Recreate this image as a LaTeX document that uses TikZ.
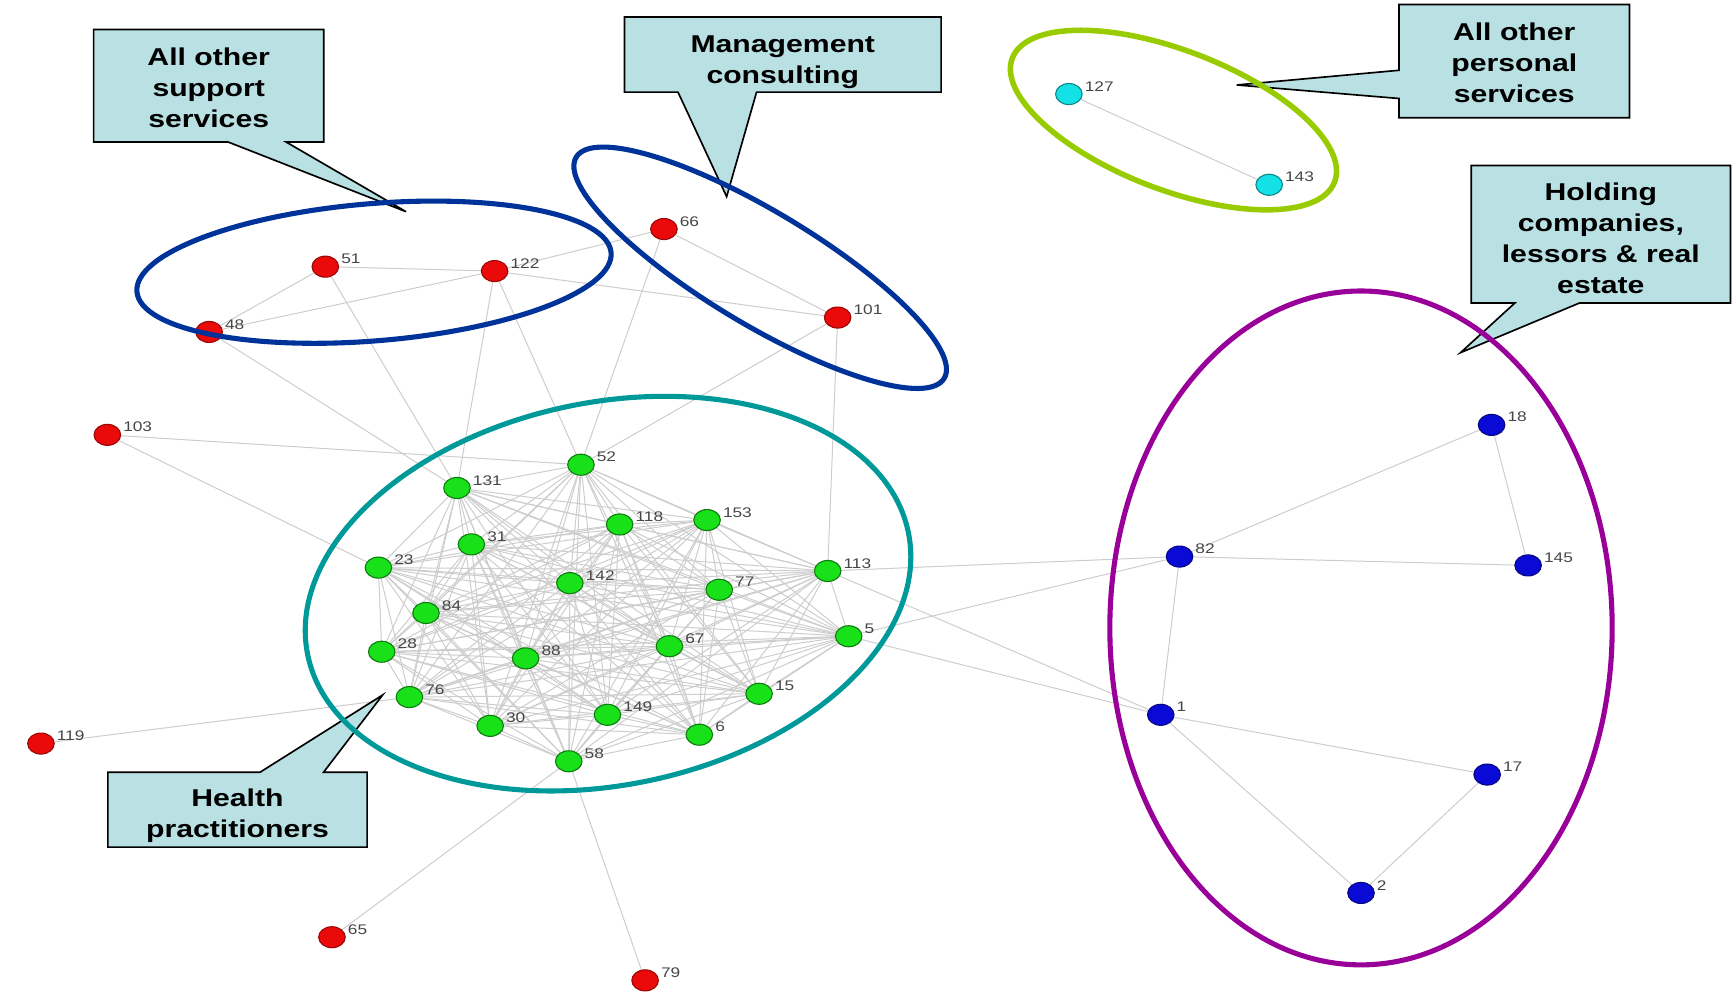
\documentclass[tikz,border=0pt]{standalone}
\usepackage{fontspec}
\setmainfont{Liberation Sans}
\newfontfamily\callfont[FakeStretch=1.24]{Liberation Sans}
\newfontfamily\labfont[FakeStretch=1.24]{Liberation Sans}
\usetikzlibrary{calc,shapes.geometric}

\definecolor{tealring}{RGB}{0,153,153}
\definecolor{navyring}{RGB}{0,51,153}
\definecolor{limering}{RGB}{153,204,0}
\definecolor{purplering}{RGB}{153,0,153}
\definecolor{calloutfill}{RGB}{185,224,227}
\definecolor{edgegray}{RGB}{205,205,205}
\definecolor{labelgray}{RGB}{70,70,70}
\definecolor{nodegreen}{RGB}{25,225,25}
\definecolor{nodered}{RGB}{235,10,10}
\definecolor{nodeblue}{RGB}{10,10,215}
\definecolor{nodecyan}{RGB}{20,225,230}

\pgfdeclarelayer{edges}
\pgfdeclarelayer{vertices}
\pgfdeclarelayer{callouts}
\pgfsetlayers{edges,vertices,callouts,main}

% vertex: style, name, x, y, printed number
\newcommand\vtx[5]{%
  \node[vertex,#1] (#2) at (#3,#4) {};
  \node[vlabel] (#2-l) at (#3+14,#4-7) {#5};}

\begin{document}
\begin{tikzpicture}[x=0.5pt,y=-0.5pt,
  vertex/.style={ellipse, minimum width=12pt, minimum height=9.5pt, inner sep=0pt, line width=0.5pt},
  gv/.style={fill=nodegreen, draw=nodegreen!55!black},
  rv/.style={fill=nodered, draw=nodered!65!black},
  bv/.style={fill=nodeblue, draw=nodeblue!60!black},
  cv/.style={fill=nodecyan, draw=nodecyan!60!black},
  vlabel/.style={anchor=west, inner sep=0pt, text=labelgray, font=\labfont\fontsize{6.3}{7}\selectfont},
  edge/.style={draw=edgegray, line width=0.45pt},
  callbox/.style={inner sep=0pt},
  callout/.style={fill=calloutfill, draw=black, line width=0.75pt, line join=miter},
  ctext/.style={inner sep=0pt, align=center, font=\callfont\bfseries\fontsize{11}{14}\selectfont},
  ring/.style={line width=2.3pt}]

\useasboundingbox (0,0) rectangle (1568,897);

\begin{pgfonlayer}{vertices}
% health practitioners cluster
\vtx{gv}{n52}{525}{420}{52}
\vtx{gv}{n131}{413}{441}{131}
\vtx{gv}{n118}{560}{474}{118}
\vtx{gv}{n153}{639}{470}{153}
\vtx{gv}{n31}{426}{492}{31}
\vtx{gv}{n23}{342}{513}{23}
\vtx{gv}{n142}{515}{527}{142}
\vtx{gv}{n77}{650}{533}{77}
\vtx{gv}{n113}{748}{516}{113}
\vtx{gv}{n84}{385}{554}{84}
\vtx{gv}{n5}{767}{575}{5}
\vtx{gv}{n28}{345}{589}{28}
\vtx{gv}{n88}{475}{595}{88}
\vtx{gv}{n67}{605}{584}{67}
\vtx{gv}{n76}{370}{630}{76}
\vtx{gv}{n15}{686}{627}{15}
\vtx{gv}{n30}{443}{656}{30}
\vtx{gv}{n149}{549}{646}{149}
\vtx{gv}{n6}{632}{664}{6}
\vtx{gv}{n58}{514}{688}{58}
% support services and other red vertices
\vtx{rv}{n51}{294}{241}{51}
\vtx{rv}{n122}{447}{245}{122}
\vtx{rv}{n48}{189}{300}{48}
\vtx{rv}{n66}{600}{207}{66}
\vtx{rv}{n101}{757}{287}{101}
\vtx{rv}{n103}{97}{393}{103}
\vtx{rv}{n119}{37}{672}{119}
\vtx{rv}{n65}{300}{847}{65}
\vtx{rv}{n79}{583}{886}{79}
% personal services
\vtx{cv}{n127}{966}{85}{127}
\vtx{cv}{n143}{1147}{167}{143}
% holding companies
\vtx{bv}{n18}{1348}{384}{18}
\vtx{bv}{n82}{1066}{503}{82}
\vtx{bv}{n145}{1381}{511}{145}
\vtx{bv}{n1}{1049}{646}{1}
\vtx{bv}{n17}{1344}{700}{17}
\vtx{bv}{n2}{1230}{807}{2}
\end{pgfonlayer}

\begin{pgfonlayer}{edges}
% fully connected green cluster
\foreach \a [count=\i] in {n52,n131,n118,n153,n31,n23,n142,n77,n113,n84,n5,n28,n88,n67,n76,n15,n30,n149,n6,n58}{
  \foreach \b [count=\j] in {n52,n131,n118,n153,n31,n23,n142,n77,n113,n84,n5,n28,n88,n67,n76,n15,n30,n149,n6,n58}{
    \ifnum\j>\i \draw[edge] (\a) -- (\b); \fi
  }
}
\foreach \a/\b in {n51/n122, n51/n48, n48/n122, n51/n131, n48/n131, n122/n131,
                   n122/n52, n122/n101, n122/n66, n66/n52, n66/n101, n101/n52,
                   n101/n113, n103/n52, n103/n23, n119/n76, n65/n58, n79/n58,
                   n113/n82, n5/n82, n113/n1, n5/n1,
                   n82/n18, n82/n145, n18/n145, n82/n1, n1/n17, n1/n2, n17/n2,
                   n127/n143}
  \draw[edge] (\a) -- (\b);
\end{pgfonlayer}

% callout boxes (frames) and their texts
\node[callbox, minimum width=103.6pt, minimum height=50.5pt] (cSupport) at (188.6,77.5) {};
\node[callbox, minimum width=142.65pt, minimum height=33.6pt] (cMgmt) at (707.45,49.3) {};
\node[callbox, minimum width=103.8pt, minimum height=50.75pt] (cPersonal) at (1368.5,55.25) {};
\node[callbox, minimum width=116.75pt, minimum height=61.75pt] (cHolding) at (1446.75,211.75) {};
\node[callbox, minimum width=116.75pt, minimum height=33.45pt] (cHealth) at (214.65,731.75) {};

\node[ctext] (cSupport-t) at (188.6,79.5) {All other\\support\\services};
\node[ctext] (cMgmt-t) at (707.45,56) {Management\\consulting};
\node[ctext] (cPersonal-t) at (1368.5,57) {All other\\personal\\services};
\node[ctext] (cHolding-t) at (1446.75,215.5) {Holding\\companies,\\lessors \& real\\estate};
\node[ctext] (cHealth-t) at (214.65,737.5) {Health\\practitioners};

% callout pointer tips
\coordinate (tSupport) at (366.9,191.3);
\coordinate (tMgmt) at (656.7,177.7);
\coordinate (tPersonal) at (1117.7,76.8);
\coordinate (tHolding) at (1320,318.7);
\coordinate (tHealth) at (345.8,628.1);

\begin{pgfonlayer}{callouts}
\draw[callout] (cSupport.north west) -- (cSupport.north east) -- (cSupport.south east)
  -- ($(cSupport.south west)!0.837!(cSupport.south east)$) -- (tSupport)
  -- ($(cSupport.south west)!0.585!(cSupport.south east)$) -- (cSupport.south west) -- cycle;
\draw[callout] (cMgmt.north west) -- (cMgmt.north east) -- (cMgmt.south east)
  -- ($(cMgmt.south west)!0.417!(cMgmt.south east)$) -- (tMgmt)
  -- ($(cMgmt.south west)!0.169!(cMgmt.south east)$) -- (cMgmt.south west) -- cycle;
\draw[callout] (cPersonal.north west) -- (cPersonal.north east) -- (cPersonal.south east)
  -- (cPersonal.south west) -- ($(cPersonal.north west)!0.83!(cPersonal.south west)$) -- (tPersonal)
  -- ($(cPersonal.north west)!0.581!(cPersonal.south west)$) -- cycle;
\draw[callout] (cHolding.north west) -- (cHolding.north east) -- (cHolding.south east)
  -- ($(cHolding.south west)!0.417!(cHolding.south east)$) -- (tHolding)
  -- ($(cHolding.south west)!0.168!(cHolding.south east)$) -- (cHolding.south west) -- cycle;
\draw[callout] (cHealth.north west) -- ($(cHealth.north west)!0.587!(cHealth.north east)$) -- (tHealth)
  -- ($(cHealth.north west)!0.832!(cHealth.north east)$) -- (cHealth.north east)
  -- (cHealth.south east) -- (cHealth.south west) -- cycle;
\end{pgfonlayer}

% industry group rings
\draw[ring, tealring, rotate around={11.5:(549.5,536.5)}] (549.5,536.5) ellipse [x radius=138.5pt, y radius=86.5pt];
\draw[ring, navyring, rotate around={4.7:(338,246)}] (338,246) ellipse [x radius=107.5pt, y radius=31pt];
\draw[ring, navyring, rotate around={-31:(687,242)}] (687,242) ellipse [x radius=97pt, y radius=25.5pt];
\draw[ring, limering, line width=2.5pt, rotate around={-21:(1060.5,108.5)}] (1060.5,108.5) ellipse [x radius=78pt, y radius=31.5pt];
\draw[ring, purplering] (1230,567.5) ellipse [x radius=113.5pt, y radius=152.25pt];
\end{tikzpicture}
\end{document}
